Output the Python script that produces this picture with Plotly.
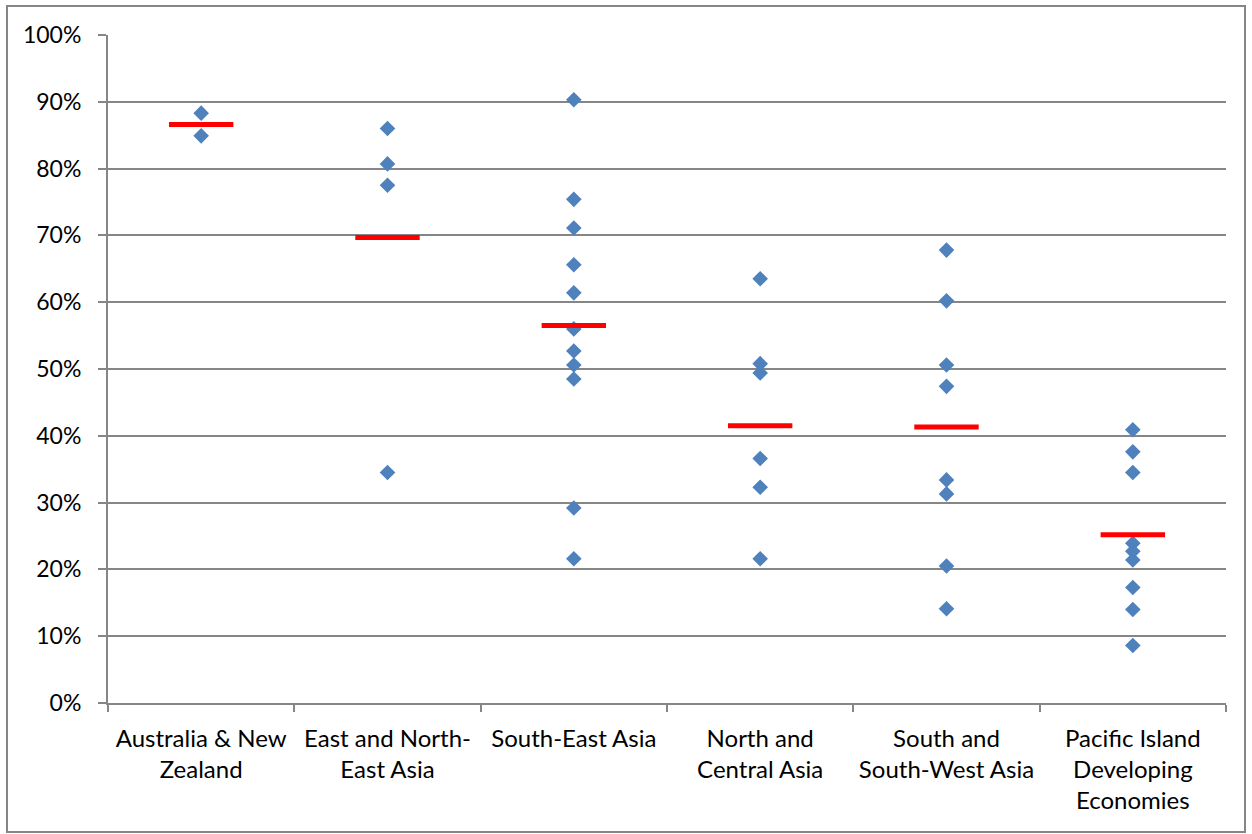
import plotly.graph_objects as go

categories = ["Australia & New<br>Zealand", "East and North-<br>East Asia", "South-East Asia",
              "North and<br>Central Asia", "South and<br>South-West Asia",
              "Pacific Island<br>Developing<br>Economies"]

anz = [88.3, 84.9]
enea = [86.0, 80.7, 77.5, 34.5]
sea = [90.3, 75.4, 71.1, 65.6, 61.4, 56.0, 52.7, 50.6, 48.5, 29.2, 21.6]
nca = [63.5, 50.8, 49.4, 36.6, 32.3, 21.6]
sswa = [67.8, 60.2, 50.6, 47.4, 33.4, 31.3, 20.5, 14.1]
pide = [40.9, 37.6, 34.5, 23.9, 22.7, 21.4, 17.3, 14.0, 8.6]

group_values = [anz, enea, sea, nca, sswa, pide]
group_means = [86.6, 69.7, 56.5, 41.5, 41.3, 25.2]

y_ticks = [0, 10, 20, 30, 40, 50, 60, 70, 80, 90, 100]

xs, ys = [], []
for cat, vals in zip(categories, group_values):
    for v in vals:
        xs.append(cat)
        ys.append(v / 100)

fig = go.Figure()
fig.add_trace(go.Scatter(
    x=xs, y=ys, mode="markers",
    marker=dict(symbol="diamond", size=12, color="#4F81BD", line=dict(width=0)),
    showlegend=False, hoverinfo="y"))
fig.add_trace(go.Scatter(
    x=categories, y=[m / 100 for m in group_means], mode="markers",
    marker=dict(symbol="line-ew", size=46, color="#FF0000", line=dict(width=5, color="#FF0000")),
    showlegend=False, hoverinfo="y"))

grid = "#868686"
fig.update_layout(
    width=1252, height=834,
    margin=dict(l=108, r=26, t=35, b=131),
    paper_bgcolor="white", plot_bgcolor="white",
    font=dict(family="Lato, Open Sans, sans-serif", size=23, color="black"),
    xaxis=dict(type="category", categoryorder="array", categoryarray=categories,
               range=[-0.5, 5.5], showgrid=False, showline=True, linecolor=grid, linewidth=2,
               ticks="outside", tickson="boundaries", ticklen=7, tickcolor=grid, tickwidth=2,
               ticklabelstandoff=13, zeroline=False, tickfont=dict(size=24)),
    yaxis=dict(range=[0, 1], tickvals=[t / 100 for t in y_ticks],
               ticktext=[f"{t}%" for t in y_ticks],
               showgrid=True, gridcolor=grid, gridwidth=2,
               showline=True, linecolor=grid, linewidth=2,
               ticks="outside", ticklen=8, tickcolor=grid, tickwidth=2,
               ticklabelstandoff=12, zeroline=False),
    shapes=[dict(type="rect", xref="paper", yref="paper",
                 x0=(7 - 108) / 1118, x1=(1245 - 108) / 1118,
                 y0=(703 - 832) / 668, y1=(703 - 6) / 668,
                 line=dict(color=grid, width=2), fillcolor="rgba(0,0,0,0)", layer="below")],
)
fig.write_html("out.html", config={"displayModeBar": False},
               post_script="document.body.style.margin='0';")
